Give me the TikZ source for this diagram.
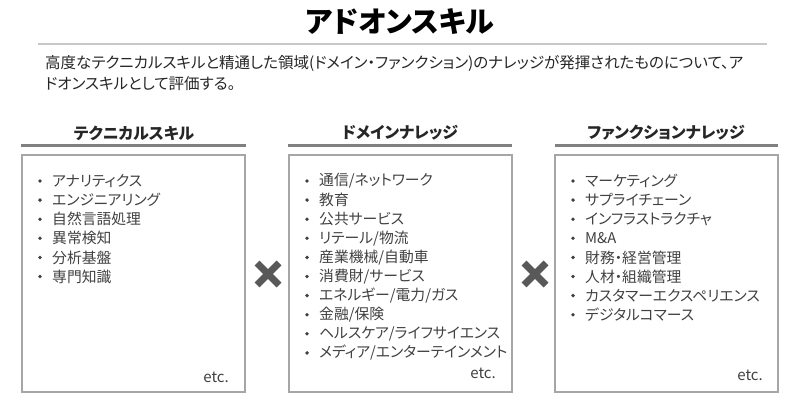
\documentclass[tikz,border=0pt]{standalone}
\usepackage{fontspec}
\setmainfont{Noto Sans CJK JP}[RawFeature=+palt]
\definecolor{txt}{HTML}{262626}
\definecolor{itemtxt}{HTML}{404040}
\definecolor{boxgray}{HTML}{A6A6A6}
\definecolor{headline}{HTML}{808080}
\definecolor{topline}{HTML}{C8C8C8}
\definecolor{crossgray}{HTML}{595959}
\tikzset{
  titletext/.style={font=\fontsize{29}{32}\selectfont\bfseries, text=black, inner sep=0pt},
  paratext/.style={font=\fontsize{15.5}{18}\selectfont, text=txt, anchor=west, inner sep=0pt},
  headtext/.style={font=\fontsize{16}{19}\selectfont\bfseries, text=txt, inner sep=0pt},
  headrule/.style={draw=headline, line width=3pt},
  panel/.style={draw=boxgray, line width=1.2pt},
  itemtext/.style={font=\fontsize{14.8}{18}\selectfont, text=itemtxt, anchor=west, inner sep=0pt},
  dotmark/.style={fill=itemtxt, circle, inner sep=0pt, minimum size=3.8pt},
  etctext/.style={font=\fontsize{15}{18}\selectfont, text=itemtxt, anchor=east, inner sep=0pt},
  crossline/.style={draw=crossgray, line width=7pt},
}
\newcommand{\itemlist}[4]{% #1 name prefix, #2 bullet x, #3 text x, #4 list
  \foreach \t [count=\i] in {#4} {
    \node[dotmark] (#1d\i) at (#2, {181+19.1*(\i-1)}) {};
    \node[itemtext] (#1t\i) at (#3, {181+19.1*(\i-1)}) {\t};
  }
}
\begin{document}
\begin{tikzpicture}[x=1pt,y=-1pt]
\useasboundingbox (0,0) rectangle (800,420);
% title
\node[titletext] (title) at (400,22) {アドオンスキル};
\coordinate (tl) at (38,44);
\coordinate (tr) at (767,44);
\draw[topline, line width=1.5pt] (tl) -- (tr);
\node[paratext] (p1) at (45,63) {高度なテクニカルスキルと精通した領域(ドメイン・ファンクション)のナレッジが発揮されたものについて、ア};
\node[paratext] (p2) at (45,84) {ドオンスキルとして評価する。};
% headings
\node[headtext] (h1) at (134,133) {テクニカルスキル};
\node[headtext] (h2) at (400,133) {ドメインナレッジ};
\node[headtext] (h3) at (666,133) {ファンクションナレッジ};
\coordinate (h1l) at (21,145); \coordinate (h1r) at (246,145);
\coordinate (h2l) at (288,145); \coordinate (h2r) at (512,145);
\coordinate (h3l) at (555,145); \coordinate (h3r) at (778,145);
\draw[headrule] (h1l) -- (h1r);
\draw[headrule] (h2l) -- (h2r);
\draw[headrule] (h3l) -- (h3r);
% panels
\draw[panel] (22,155) rectangle (245,392);
\draw[panel] (289,155) rectangle (512,392);
\draw[panel] (555,155) rectangle (778,392);
% items
\itemlist{a}{40}{52}{アナリティクス,エンジニアリング,自然言語処理,異常検知,分析基盤,専門知識}
\itemlist{b}{307}{319}{通信/ネットワーク,教育,公共サービス,リテール/物流,産業機械/自動車,消費財/サービス,エネルギー/電力/ガス,金融/保険,ヘルスケア/ライフサイエンス,メディア/エンターテインメント}
\itemlist{c}{573}{585}{マーケティング,サプライチェーン,インフラストラクチャ,M\&A,財務・経営管理,人材・組織管理,カスタマーエクスペリエンス,デジタルコマース}
\node[etctext] (e1) at (229,377) {etc.};
\node[etctext] (e2) at (496,373) {etc.};
\node[etctext] (e3) at (763,375) {etc.};
% crosses
\draw[crossline] (257,263) -- (279,285);
\draw[crossline] (257,285) -- (279,263);
\draw[crossline] (524,263) -- (546,285);
\draw[crossline] (524,285) -- (546,263);
\end{tikzpicture}
\end{document}
